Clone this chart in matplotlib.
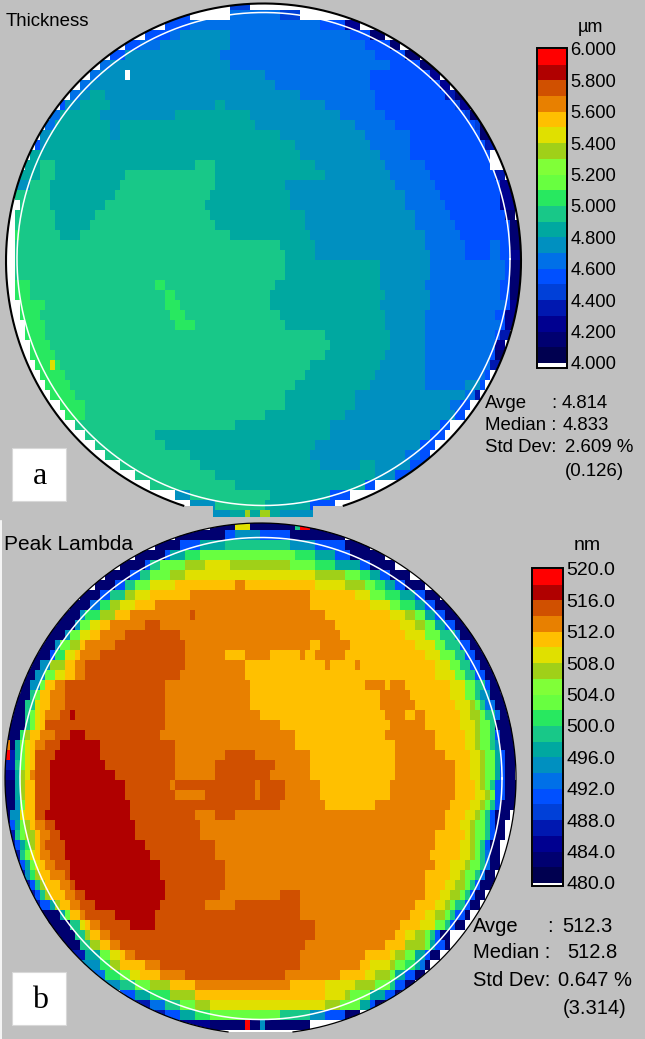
import numpy as np
import matplotlib
matplotlib.use("Agg")
import matplotlib.pyplot as plt
from matplotlib.colors import ListedColormap, Normalize
from matplotlib.patches import Polygon, Rectangle

plt.rcParams['font.family'] = ['Liberation Sans', 'DejaVu Sans']

BG = '#C0C0C0'
LEVEL_KEYS = '0123456789abcdefghij'
LEVEL_COLORS = ['#000050', '#000070', '#000090', '#0018B0', '#0040D8', '#0050FF', '#0070E8',
                '#0090C0', '#00A8A0', '#18C888', '#28E860', '#68FF40', '#80FF38', '#A0D018',
                '#E0E000', '#FFC000', '#E88000', '#D05000', '#B00000', '#FF0000']

# Maps: run-length rows, "column:level" (one column = 5 px wide, one row = 10 px tall; '.' = no reading)
THICKNESS_ROWS = [
 "0:. 46:4 50:.",
 "0:. 34:5 38:. 46:6 56:4 60:.",
 "0:. 33:5 38:6 64:5 69:2 72:.",
 "0:. 29:5 34:6 36:7 46:6 70:5 74:1 77:.",
 "0:. 25:5 28:6 32:7 46:6 73:5 78:1 80:.",
 "0:. 22:5 25:7 44:6 75:5 81:1 84:.",
 "0:. 20:6 22:7 46:6 78:5 84:1 87:.",
 "0:. 18:6 20:7 25:. 26:7 53:6 74:5 86:2 88:.",
 "0:. 16:6 18:7 55:6 74:5 88:2 90:.",
 "0:. 14:6 16:7 18:8 21:7 60:6 75:5 89:3 91:1 93:.",
 "0:. 12:5 13:7 16:8 22:7 43:8 45:7 65:6 75:5 91:4 92:2 94:.",
 "0:. 10:6 12:8 20:7 35:8 50:7 68:6 77:5 93:4 94:1 96:.",
 "0:. 9:6 11:8 22:7 24:8 51:7 71:6 79:5 95:4 96:1 97:.",
 "0:. 8:7 10:8 22:7 24:8 56:7 73:6 82:5 96:1 98:.",
 "0:. 7:5 8:7 9:8 59:7 74:6 82:5 97:3 99:.",
 "0:. 6:8 60:7 76:6 82:5 98:.",
 "0:. 5:8 8:9 11:8 39:9 43:8 63:7 77:6 85:5 98:.",
 "0:. 4:8 8:9 11:8 25:9 43:8 65:7 78:6 86:5 99:3 101:.",
 "0:. 3:7 6:9 10:8 24:9 43:8 57:7 79:6 87:5 100:2 102:.",
 "0:. 3:9 10:8 23:9 42:8 58:7 81:6 88:5 100:2 103:.",
 "0:. 4:9 10:8 21:9 41:8 58:7 81:6 89:5 100:2 103:1 104:.",
 "0:. 3:9 11:8 19:9 42:8 61:7 83:6 90:5 101:1 103:.",
 "0:. 3:9 11:8 18:9 43:8 61:7 83:6 91:5 102:1 104:.",
 "0:. 3:a 4:9 12:8 16:9 46:8 62:7 85:6 92:5 102:1 104:.",
 "0:. 3:9 56:8 63:7 85:6 93:5 98:6 100:5 102:1 104:.",
 "0:. 3:9 57:8 63:7 86:6 93:5 98:6 100:5 102:2 104:.",
 "0:. 3:9 57:8 76:7 86:6 101:5 102:1 105:.",
 "0:. 3:9 57:8 76:7 86:6 101:5 102:1 105:.",
 "0:. 3:a 6:9 31:a 33:9 55:8 76:7 85:6 100:5 102:1 104:.",
 "0:. 3:a 6:9 33:a 35:9 54:8 77:7 86:6 100:5 102:1 104:.",
 "0:. 4:a 9:9 33:a 36:9 54:8 76:7 86:6 101:5 102:2 104:.",
 "0:. 4:a 8:9 34:a 37:9 56:8 77:7 85:6 99:5 101:2 104:.",
 "0:. 5:a 9:9 35:a 39:9 57:8 77:7 85:6 100:5 101:2 103:.",
 "0:. 5:a 9:9 65:8 78:7 85:6 99:5 100:3 102:.",
 "0:. 6:a 10:9 66:8 78:7 85:6 99:2 101:.",
 "0:. 6:a 11:9 65:8 77:7 85:6 98:5 99:1 101:.",
 "0:. 7:a 10:e 11:a 12:9 62:8 76:7 85:6 98:3 100:.",
 "0:. 8:a 13:9 61:8 75:7 85:6 97:5 98:.",
 "0:. 9:a 14:9 59:8 74:7 85:6 93:7 96:5 97:.",
 "0:. 10:a 15:9 57:8 71:7 93:6 95:3 96:.",
 "0:. 12:a 17:9 57:8 71:7 90:6 92:5 94:.",
 "0:. 13:a 17:9 53:8 69:7 91:5 93:.",
 "0:. 15:9 47:8 66:7 88:5 90:.",
 "0:. 17:9 31:8 66:7 86:5 89:.",
 "0:. 19:9 33:8 63:7 84:5 87:.",
 "0:. 21:9 38:8 62:7 81:6 84:5 86:.",
 "0:. 24:9 40:8 64:7 72:8 75:7 82:5 85:.",
 "0:. 27:9 43:8 75:7 79:5 85:.",
 "0:. 30:9 47:8 73:5 75:.",
 "0:. 35:7 38:9 54:8 66:5 70:.",
 "0:. 38:7 43:9 53:8 62:5 67:.",
 "0:. 42:7 46:8 49:d 50:8 52:d 54:8 56:7 63:.",
]

LAMBDA_ROWS = [
 "0:. 42:1 47:e 50:1 59:9 60:j 62:1 64:.",
 "0:. 35:1 45:5 47:7 52:5 58:1 69:.",
 "0:. 31:1 36:5 40:8 45:9 58:7 63:5 69:1 74:.",
 "0:. 27:1 33:5 34:8 37:a 40:b 59:a 63:8 67:5 70:1 77:.",
 "0:. 24:1 29:5 30:9 32:b 37:d 41:e 46:d 58:b 63:a 67:8 72:5 74:1 79:.",
 "0:. 21:1 26:5 28:9 30:b 34:d 37:e 63:d 69:b 72:a 74:8 76:5 78:1 82:.",
 "0:. 19:1 23:5 25:9 27:b 30:e 35:f 47:g 49:f 63:e 69:d 73:b 75:a 77:8 79:5 81:1 85:.",
 "0:. 16:1 20:5 22:9 25:d 27:e 30:f 38:g 62:f 71:e 74:b 77:a 80:8 83:5 85:1 88:.",
 "0:. 14:1 18:6 20:a 22:d 24:e 27:f 31:g 62:f 74:e 78:b 80:a 83:8 85:5 87:1 91:.",
 "0:. 12:1 16:7 17:a 20:d 23:f 26:g 38:h 39:g 65:f 78:e 81:d 83:b 85:8 87:5 89:1 93:.",
 "0:. 10:1 15:7 16:b 18:e 20:f 22:g 29:h 32:g 67:f 80:e 83:d 85:b 87:8 89:5 91:1 95:.",
 "0:. 9:1 13:7 14:b 16:e 18:f 20:g 25:h 36:g 68:f 81:e 85:b 88:9 91:6 92:1 96:.",
 "0:. 7:1 11:7 12:b 14:d 16:f 17:g 23:h 37:g 62:f 64:g 70:f 83:e 87:b 89:9 92:5 94:1 98:.",
 "0:. 6:1 10:5 11:a 13:e 15:f 16:g 20:h 37:g 45:f 49:g 54:f 60:g 61:f 63:g 69:f 85:e 88:b 91:9 93:5 95:1 99:.",
 "0:. 5:1 8:7 10:d 13:f 15:g 17:h 37:g 49:f 65:g 66:f 71:g 72:f 87:e 90:b 92:9 94:5 96:1 100:.",
 "0:. 4:1 7:7 9:b 11:e 13:f 15:g 17:h 36:g 49:f 87:e 91:b 93:9 95:5 97:1 100:.",
 "0:. 3:1 6:7 8:b 9:f 11:g 13:h 33:g 50:f 73:g 77:f 78:g 81:f 90:e 93:b 95:9 97:5 98:1 102:.",
 "0:. 2:1 6:9 7:b 8:f 10:g 13:h 33:g 50:f 76:g 82:f 90:e 93:b 95:9 96:7 98:1 102:.",
 "0:. 2:1 5:9 7:e 8:f 10:g 13:h 33:g 50:f 76:g 83:f 91:e 94:d 95:b 96:9 97:6 99:1 103:.",
 "0:. 1:1 5:9 6:b 7:e 8:f 9:g 12:h 14:i 15:h 33:g 52:f 77:g 81:f 83:g 85:f 92:e 94:d 96:b 97:9 99:6 100:1 103:.",
 "0:. 1:1 5:9 6:b 7:e 8:f 9:h 33:g 56:f 78:g 85:f 92:e 95:d 96:b 98:9 99:1 103:.",
 "0:. 1:1 4:a 5:d 6:f 8:g 11:h 14:i 17:h 32:g 59:f 77:g 87:f 93:e 95:d 96:b 98:9 99:5 100:1 103:.",
 "0:. 1:g 2:1 3:8 4:b 5:e 6:f 7:g 9:h 12:i 20:h 35:g 59:f 79:g 87:f 93:e 95:d 96:b 98:9 99:7 100:1 103:.",
 "0:. 1:j 2:3 3:8 4:b 5:e 6:f 7:h 11:i 20:h 35:g 45:h 51:g 62:f 79:g 89:f 94:e 96:d 97:b 99:8 100:5 101:1 103:.",
 "0:. 1:3 3:9 4:b 5:e 6:f 7:h 10:i 21:h 35:g 43:h 55:g 62:f 79:g 91:f 94:e 96:d 97:b 99:8 100:5 101:1 103:.",
 "0:. 1:2 3:8 4:d 5:e 6:g 7:h 10:i 23:h 35:g 43:h 54:g 62:f 79:g 91:f 94:e 96:d 97:b 99:8 100:5 101:1 103:.",
 "0:. 1:1 3:8 4:d 5:f 7:h 10:i 25:h 34:g 35:h 51:g 52:h 57:g 64:f 78:g 91:f 95:e 96:d 97:b 98:9 99:5 101:1 104:.",
 "0:. 1:1 3:8 4:d 5:f 7:h 10:i 25:h 35:g 41:h 51:g 52:h 57:g 64:f 78:g 91:f 95:e 97:d 98:b 99:5 101:1 104:.",
 "0:. 1:1 3:7 4:b 5:f 7:h 10:i 26:h 56:g 65:f 75:g 90:f 94:e 96:d 97:b 98:9 99:5 100:1 103:.",
 "0:. 1:1 2:7 4:e 5:f 7:h 9:i 26:h 39:g 43:h 47:g 89:f 93:e 95:d 96:b 97:9 98:5 99:1 102:.",
 "0:. 1:2 2:5 3:8 4:b 5:d 6:f 7:g 9:h 11:i 27:h 40:g 89:f 92:e 94:d 95:b 97:9 98:5 99:1 101:.",
 "0:. 1:3 3:9 4:b 5:d 7:f 8:g 10:h 12:i 27:h 40:g 87:f 93:e 94:d 95:b 97:9 98:5 99:1 101:.",
 "0:. 1:3 3:5 4:8 5:a 6:d 7:f 8:g 9:h 13:i 29:h 43:g 87:f 92:e 94:d 95:b 96:9 97:5 98:1 100:.",
 "0:. 2:3 4:9 5:b 6:e 7:f 8:g 10:h 13:i 30:h 43:g 86:f 92:e 94:d 95:b 96:9 97:6 98:1 100:.",
 "0:. 2:3 4:5 5:8 6:b 7:e 8:f 9:g 11:h 14:i 32:h 45:g 87:f 90:e 93:d 94:b 96:9 97:6 98:1 100:.",
 "0:. 3:3 5:7 6:a 7:d 8:f 10:g 13:h 14:i 32:h 45:g 85:f 90:e 92:d 93:b 95:9 96:6 97:1 99:.",
 "0:. 4:3 6:5 7:9 8:d 9:f 12:g 14:h 15:i 33:h 45:g 85:f 89:e 91:d 93:b 94:9 95:5 96:1 99:.",
 "0:. 5:3 7:5 8:9 9:d 10:f 13:g 15:h 17:i 33:h 44:g 56:h 60:g 85:f 88:e 90:d 92:b 93:9 94:5 95:1 97:.",
 "0:. 6:3 8:5 10:8 11:d 12:f 14:g 16:h 19:i 32:h 41:g 47:h 60:g 83:f 87:e 89:d 90:b 91:9 93:5 94:1 96:.",
 "0:. 8:1 12:8 13:b 14:f 16:g 17:h 23:i 31:h 60:g 82:f 85:e 87:d 89:b 90:9 91:5 93:1 94:.",
 "0:. 9:1 14:9 16:e 17:f 18:g 20:h 26:i 31:h 63:g 80:f 84:e 87:b 89:9 90:5 91:1 93:.",
 "0:. 11:1 15:9 17:d 18:f 20:g 22:h 63:g 79:f 81:e 83:d 85:b 86:9 87:5 88:1 90:.",
 "0:. 12:1 16:9 18:d 20:f 22:g 24:h 61:g 77:f 81:d 85:b 86:8 87:5 89:1 90:.",
 "0:. 14:3 17:8 20:b 22:e 24:f 25:g 27:h 60:g 73:f 78:e 79:d 81:b 83:8 85:5 86:1 88:.",
 "0:. 16:7 20:a 22:d 24:f 29:g 32:h 60:g 72:f 74:e 78:d 79:b 81:a 83:8 84:6 85:1 86:.",
 "0:. 17:6 21:a 24:b 26:e 28:f 32:g 37:h 57:g 68:f 73:e 75:d 78:b 79:8 81:5 83:1 85:.",
 "0:. 20:7 24:9 27:b 30:d 34:f 39:g 58:f 65:e 71:d 75:b 78:9 79:5 81:1 83:.",
 "0:. 24:5 27:8 30:a 34:d 39:f 65:e 69:d 70:b 74:8 77:5 79:1 82:.",
 "0:. 27:3 30:6 33:9 36:b 39:d 42:e 65:d 68:b 72:8 74:5 75:1 78:.",
 "0:. 30:3 33:5 36:8 39:a 42:b 56:9 62:7 65:5 69:1 72:.",
 "0:. 36:2 42:1 49:j 50:1 52:7 53:1 62:.",
]

THICK_TICKS = ['6.000', '5.800', '5.600', '5.400', '5.200', '5.000', '4.800', '4.600', '4.400', '4.200', '4.000']
LAMBDA_TICKS = ['520.0', '516.0', '512.0', '508.0', '504.0', '500.0', '496.0', '492.0', '488.0', '484.0', '480.0']

CMAP = ListedColormap(LEVEL_COLORS)
CMAP.set_bad((0, 0, 0, 0))
NCOL = 130


def decode(rows, vmin, vmax):
    grid = np.full((len(rows), NCOL), np.nan)
    step = (vmax - vmin) / len(LEVEL_KEYS)
    for r, row in enumerate(rows):
        toks = [t.split(':') for t in row.split()]
        for k, (start, lvl) in enumerate(toks):
            end = int(toks[k + 1][0]) if k + 1 < len(toks) else NCOL
            if lvl != '.':
                grid[r, int(start):end] = vmin + step * (LEVEL_KEYS.index(lvl) + 0.5)
    return grid


def arc(cx, cy, r, a0, a1, n=400):
    t = np.radians(np.linspace(a0, a1, n))
    return cx + r * np.cos(t), cy + r * np.sin(t)


fig = plt.figure(figsize=(6.45, 10.39), dpi=100, facecolor=BG)
ax = fig.add_axes([0, 0, 1, 1])
ax.set_xlim(0, 645)
ax.set_ylim(1039, 0)
ax.axis('off')


def wafer(rows, y0, vmin, vmax, cx, cy, r, flat_y, notch, ring, black_lw):
    # outline: arc over the top, flat part at the bottom
    a = np.degrees(np.arcsin((flat_y - cy) / r))
    xs, ys = arc(cx, cy, r, 180 - a, 360 + a)
    pts = list(zip(xs, ys))
    if notch:
        pts += [(notch[1], flat_y), (notch[1], notch[2]), (notch[0], notch[2]), (notch[0], flat_y)]
    poly = Polygon(pts, closed=True, facecolor='white', edgecolor='none', zorder=1)
    ax.add_patch(poly)
    grid = decode(rows, vmin, vmax)
    xe = np.arange(NCOL + 1) * 5.0
    ye = y0 + np.arange(len(rows) + 1) * 10.0
    m = ax.pcolormesh(xe, ye, grid, cmap=CMAP, norm=Normalize(vmin, vmax), zorder=2, antialiased=False)
    m.set_clip_path(poly)
    ax.plot(xs, ys, color='black', lw=black_lw, zorder=3, solid_capstyle='butt')
    rx, ry = arc(ring[0], ring[1], ring[2], 0, 360)
    ax.plot(rx, ry, color='white', lw=1.1, zorder=4)


wafer(THICKNESS_ROWS, 0, 4.0, 6.0, 263.5, 261, 257.5, 506, (213, 313, 517), (263.5, 259, 246.5), 1.5)
wafer(LAMBDA_ROWS, 520, 480.0, 520.0, 260.5, 778.5, 255.5, 1032, None, (261, 778.5, 241), 0.9)


def colorbar(x0, x1, ytop, ybot, ybox, vmin, vmax, labels, size):
    ax.add_patch(Rectangle((x0 - 1, ytop - 1), x1 - x0 + 2, ybox - ytop + 2, facecolor='white',
                           edgecolor='black', lw=1.4, zorder=1))
    cax = fig.add_axes([x0 / 645, 1 - ybot / 1039, (x1 - x0) / 645, (ybot - ytop) / 1039])
    edges = np.linspace(vmin, vmax, len(LEVEL_COLORS) + 1)
    mids = (edges[:-1] + edges[1:]) / 2
    cax.pcolormesh([0, 1], edges, mids[:, None], cmap=CMAP, norm=Normalize(vmin, vmax))
    cax.set_xticks([])
    cax.set_ylim(vmin, vmax)
    cax.yaxis.tick_right()
    cax.set_yticks([float(t) for t in labels])
    cax.set_yticklabels(labels, fontsize=size)
    cax.tick_params(axis='y', length=0, pad=3)
    for s in cax.spines.values():
        s.set_visible(False)


colorbar(538, 566, 49, 363, 367, 4.0, 6.0, THICK_TICKS, 13.2)
colorbar(533, 562, 569, 883, 885, 480.0, 520.0, LAMBDA_TICKS, 14)

# white label boxes
for (x, y, s) in [(12, 448, 'a'), (12, 972, 'b')]:
    ax.add_patch(Rectangle((x, y), 54, 53, facecolor='white', edgecolor='#D8D8D8', lw=0.8, zorder=5))
    ax.text(x + 28, y + 28, s, family='Liberation Serif', fontsize=23, ha='center', va='center', zorder=6)

ax.plot([0.5, 0.5], [521, 1039], color='white', lw=1.2, zorder=6)


def label(x, y, s, size):
    ax.text(x, y, s, fontsize=size, ha='left', va='center', color='black', zorder=7)


label(6, 21, 'Thickness', 13.4)
label(4, 544, 'Peak Lambda', 15)
label(578, 28, 'µm', 13)
label(574, 545, 'nm', 14)

for x, y, s in [(485, 403, 'Avge'), (551, 403, ':'), (562, 403, '4.814'),
                (485, 425, 'Median :'), (563, 425, '4.833'),
                (485, 448, 'Std Dev:'), (565, 448, '2.609 %'), (565, 472, '(0.126)')]:
    label(x, y, s, 13.4)
for x, y, s in [(473, 927, 'Avge'), (547, 927, ':'), (562, 927, '512.3'),
                (473, 953, 'Median :'), (567, 953, '512.8'),
                (473, 981, 'Std Dev:'), (558, 981, '0.647 %'), (563, 1008, '(3.314)')]:
    label(x, y, s, 14.5)

fig.savefig('out.png', dpi=100, facecolor=BG)
